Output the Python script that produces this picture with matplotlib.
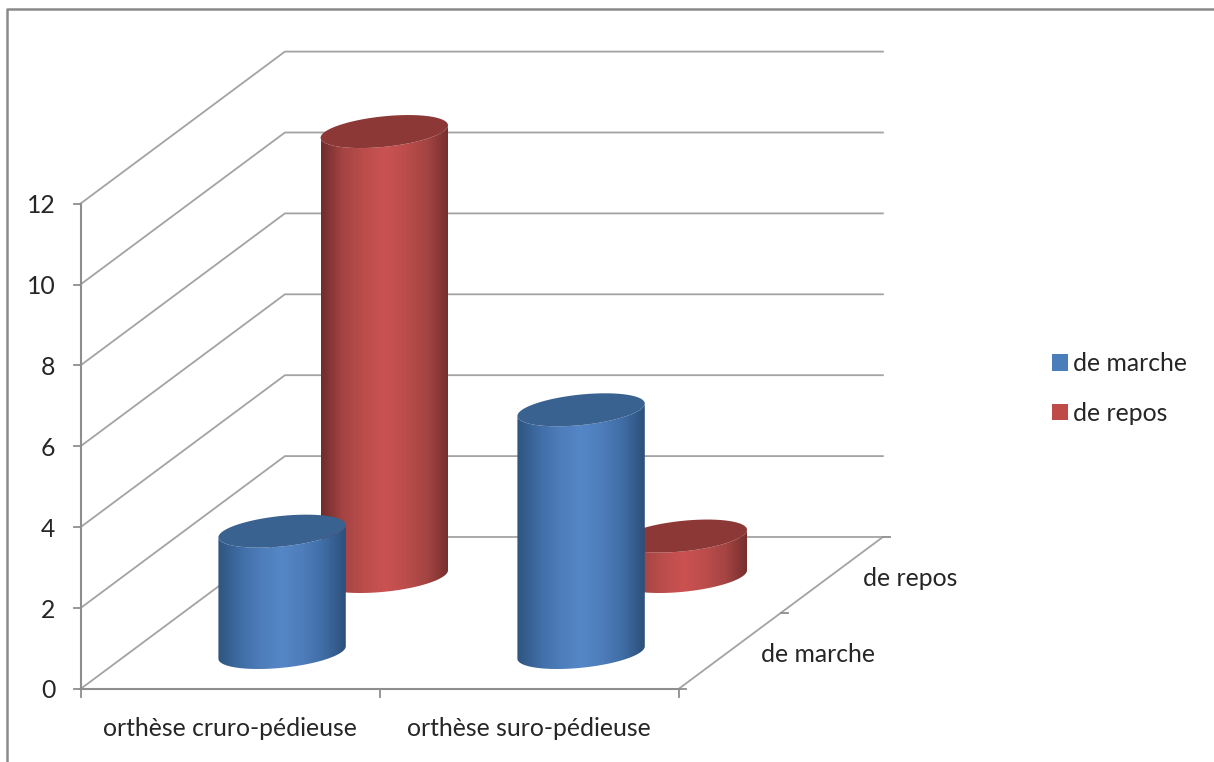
#!/usr/bin/env python3
"""Histogramme cylindrique 3D : type d'orthèse selon la marche et le repos"""

import numpy as np
import matplotlib
matplotlib.use('Agg')
import matplotlib.pyplot as plt
from matplotlib.colors import LinearSegmentedColormap
from matplotlib.patches import Patch, Polygon

plt.rcParams['font.family'] = ['Lato', 'DejaVu Sans']

categories = ['orthèse cruro-pédieuse', 'orthèse suro-pédieuse']
series = ['de marche', 'de repos']
de_marche = [3, 6]
de_repos = [11, 1]
yticks = [0, 2, 4, 6, 8, 10, 12]

# Géométrie de la projection oblique (en pixels)
X0, Y0 = 80.5, 689
LARG_CAT = 299
DX, DY = 102.2, 76
UNITE = 40.45
U = np.array([59.0, 0.0])
V = np.array([24.0, -16.5])
DECALAGE_CYL = np.array([1.0, 1.5])

FS = 17.8
GRIS = '#a3a3a3'
GRIS_AXE = '#8e8e8e'
TEXTE = '#262626'

palette_bleu = ['#2f547f', '#3f6ca4', '#4d7dba', '#5586c7', '#4d7dba', '#3f6ca4', '#2c4f7a']
palette_rouge = ['#6f2c2b', '#a34443', '#bb4d4b', '#cb5251', '#bb4d4b', '#a34443', '#752e2d']
couleurs = {
    'de marche': (LinearSegmentedColormap.from_list('bleu', palette_bleu), '#3a6291', '#4a7ebb'),
    'de repos': (LinearSegmentedColormap.from_list('rouge', palette_rouge), '#8c3836', '#be4b48'),
}


def projeter(cat, prof, val):
    return X0 + cat * LARG_CAT + prof * DX, Y0 - val * UNITE - prof * DY


def arc(centre, t):
    return np.outer(np.cos(t), U) + np.outer(np.sin(t), V) + np.array(centre)


def cylindre(ax, cat, prof, val, cmap, c_haut, z):
    base = np.array(projeter(cat, prof, 0)) + DECALAGE_CYL
    haut = np.array(projeter(cat, prof, val)) + DECALAGE_CYL
    t0 = np.arctan2(V[0], U[0])
    avant = np.linspace(t0 + np.pi, t0 + 2 * np.pi, 80)
    # Côté du cylindre : arc avant de la base puis remontée vers le sommet
    contour = np.vstack([arc(base, avant), arc(haut, avant[::-1])])
    demi = np.hypot(U[0], V[0])
    degrade = np.linspace(0, 1, 256).reshape(1, -1)
    cote = Polygon(contour, closed=True, transform=ax.transData, fc='none', ec='none')
    ax.add_patch(cote)
    im = ax.imshow(degrade, cmap=cmap, aspect='auto', zorder=z, interpolation='bilinear',
                   extent=(base[0] - demi, base[0] + demi, base[1] + 30, haut[1] - 30))
    im.set_clip_path(cote)
    sommet = arc(haut, np.linspace(0, 2 * np.pi, 160))
    ax.add_patch(Polygon(sommet, closed=True, fc=c_haut, ec='none', zorder=z + 0.1))


fig = plt.figure(figsize=(12.14, 7.62), dpi=100)
ax = fig.add_axes([0, 0, 1, 1])

# Cadre extérieur
ax.plot([7, 7, 1214], [762, 9, 9], color='#8a8a8a', lw=1.8, zorder=1)

# Quadrillage : paroi latérale puis paroi du fond
for val in yticks[1:]:
    pf = projeter(0, 0, val)
    pb = projeter(0, 2, val)
    pd = projeter(2, 2, val)
    ax.plot([pf[0], pb[0], pd[0]], [pf[1], pb[1], pd[1]], color=GRIS, lw=1.3, zorder=1)

# Plancher et axes
coins = [projeter(0, 0, 0), projeter(0, 2, 0), projeter(2, 2, 0), projeter(2, 0, 0), projeter(0, 0, 0)]
ax.plot([c[0] for c in coins], [c[1] for c in coins], color=GRIS, lw=1.3, zorder=1)
p0 = projeter(0, 0, 0)
p12 = projeter(0, 0, 12)
p2 = projeter(2, 0, 0)
ax.plot([p0[0], p12[0]], [p0[1], p12[1]], color=GRIS_AXE, lw=1.5, zorder=2)
ax.plot([p0[0], p2[0]], [p0[1], p2[1]], color=GRIS_AXE, lw=1.5, zorder=2)

# Graduations
for val in yticks:
    x, y = projeter(0, 0, val)
    ax.plot([x - 7, x], [y, y], color=GRIS_AXE, lw=1.3, zorder=2)
    ax.text(x - 25, y + 2, str(val), ha='right', va='center', fontsize=FS, color=TEXTE)
for c in range(3):
    x, y = projeter(c, 0, 0)
    ax.plot([x, x], [y, y + 8], color=GRIS_AXE, lw=1.3, zorder=2)
for p in range(3):
    x, y = projeter(2, p, 0)
    ax.plot([x, x + 7], [y, y], color=GRIS_AXE, lw=1.3, zorder=2)

for i, nom in enumerate(categories):
    x, y = projeter(i + 0.5, 0, 0)
    ax.text(x, y + 39, nom, ha='center', va='center', fontsize=FS, color=TEXTE)
for i, nom in enumerate(series):
    x, y = projeter(2, i + 0.5, 0)
    ax.text(x + 31, y + 3, nom, ha='left', va='center', fontsize=FS, color=TEXTE)

# Les cylindres du fond d'abord, ceux de devant ensuite
for i, val in enumerate(de_repos):
    cmap, c_haut, _ = couleurs['de repos']
    cylindre(ax, i + 0.5, 1.5, val, cmap, c_haut, 3 + i)
for i, val in enumerate(de_marche):
    cmap, c_haut, _ = couleurs['de marche']
    cylindre(ax, i + 0.5, 0.5, val, cmap, c_haut, 6 + i)

poignees = [Patch(fc=couleurs[s][2], ec='none') for s in series]
ax.legend(poignees, series, loc='center left', bbox_to_anchor=(0.8666, 0.490), frameon=False,
          fontsize=FS, labelcolor=TEXTE, handlelength=0.63, handleheight=0.63,
          handletextpad=0.22, labelspacing=1.09, borderpad=0, borderaxespad=0)

ax.set_xlim(0, 1214)
ax.set_ylim(762, 0)
ax.axis('off')

fig.savefig('out.png', dpi=100)
